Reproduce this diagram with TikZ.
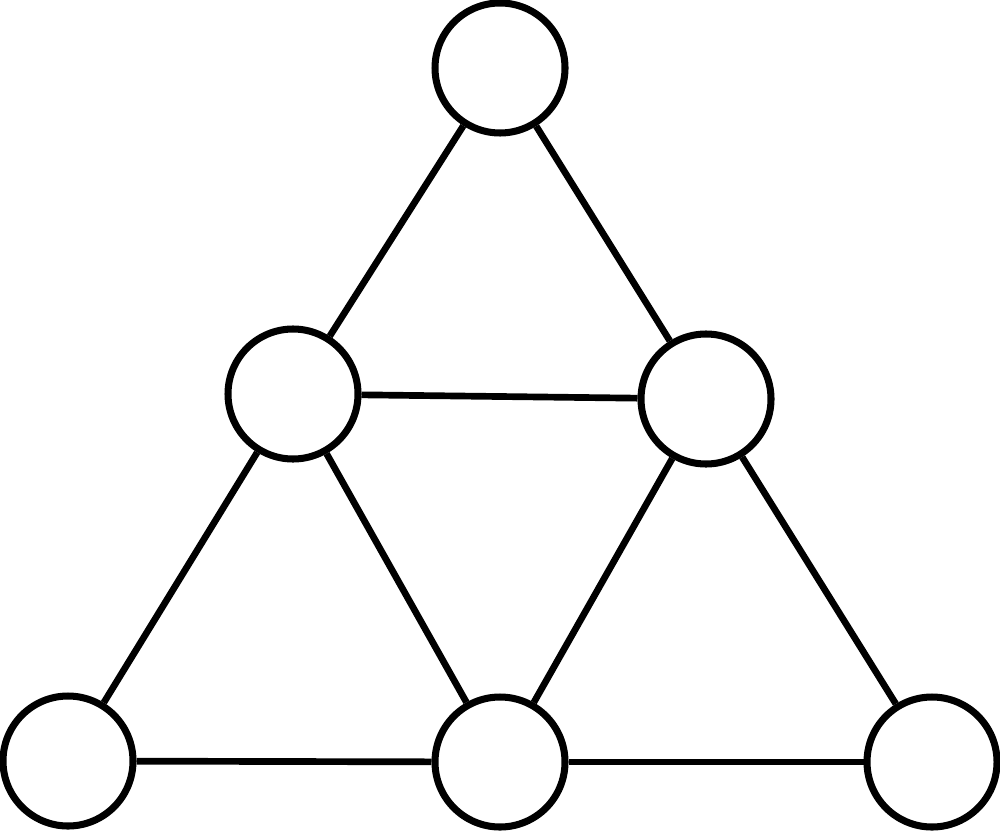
\documentclass[tikz,border=0pt]{standalone}
\usepackage{tikz}
\usetikzlibrary{positioning}

\begin{document}
\begin{tikzpicture}[
    vertex/.style={circle, draw, line width=2pt, fill=white, minimum size=1.30cm, inner sep=0pt},
    edge/.style={line width=1.9pt}
]
    \useasboundingbox (0,0) rectangle (10,8.31);
    \node[vertex] (top) at (5.00,7.63) {};
    \node[vertex] (midleft) at (2.93,4.37) {};
    \node[vertex] (midright) at (7.06,4.32) {};
    \node[vertex] (botleft) at (0.68,0.70) {};
    \node[vertex] (botmid) at (5.00,0.69) {};
    \node[vertex] (botright) at (9.32,0.69) {};

    \draw[edge] (top) -- (midleft);
    \draw[edge] (top) -- (midright);
    \draw[edge] (midleft) -- (midright);
    \draw[edge] (midleft) -- (botleft);
    \draw[edge] (midleft) -- (botmid);
    \draw[edge] (midright) -- (botmid);
    \draw[edge] (midright) -- (botright);
    \draw[edge] (botleft) -- (botmid);
    \draw[edge] (botmid) -- (botright);
\end{tikzpicture}
\end{document}
